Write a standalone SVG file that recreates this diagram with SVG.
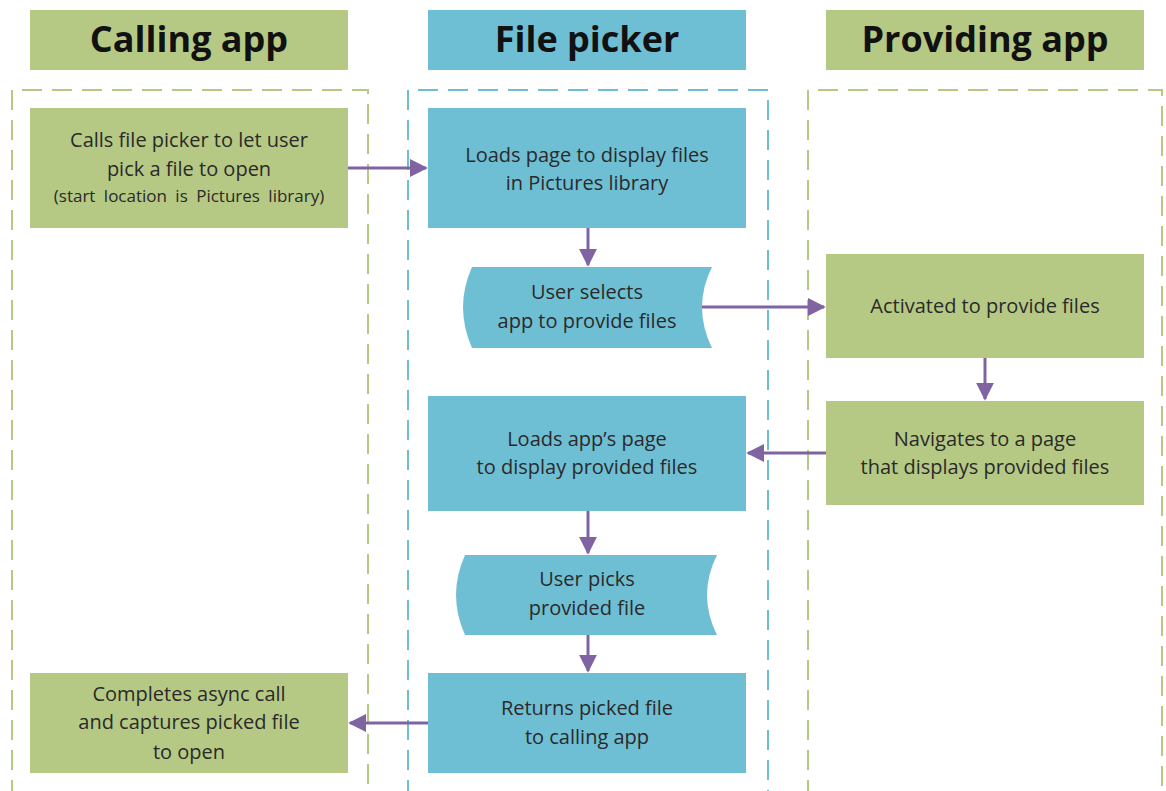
<svg xmlns="http://www.w3.org/2000/svg" width="1166" height="791" viewBox="0 0 1166 791">
<defs>
<marker id="ah" viewBox="0 0 10 10" refX="9" refY="5" markerWidth="6" markerHeight="6" markerUnits="strokeWidth" orient="auto">
<path d="M0,0 L10,5 L0,10 Z" fill="#8064A2"/>
</marker>
<style>
.g{fill:#B5C985}
.b{fill:#6FBFD4}
.hd{font-family:"Open Sans","Liberation Sans",sans-serif;font-weight:bold;font-size:36px;fill:#111;text-anchor:middle}
.t{font-family:"Open Sans","Liberation Sans",sans-serif;font-size:20px;fill:#2a2a2a;text-anchor:middle}
.s{font-size:17px;word-spacing:4px}
.laneG{fill:none;stroke:#B5C985;stroke-width:2;stroke-dasharray:20 10}
.laneB{fill:none;stroke:#6FBFD4;stroke-width:2;stroke-dasharray:20 10}
.c{fill:none;stroke:#8064A2;stroke-width:3;marker-end:url(#ah)}
</style>
</defs>
<rect width="1166" height="791" fill="#fff"/>
<g id="lanes">
<path class="laneG" d="M12,800 L12,90 L368,90 L368,800"/>
<path class="laneB" d="M408,800 L408,90 L768,90 L768,800"/>
<path class="laneG" d="M808,800 L808,90 L1162,90 L1162,800"/>
</g>
<g id="hdr-calling"><rect class="g" x="30" y="10" width="318" height="60"/><text class="hd" x="189" y="52">Calling app</text></g>
<g id="hdr-picker"><rect class="b" x="428" y="10" width="318" height="60"/><text class="hd" x="587" y="52">File picker</text></g>
<g id="hdr-providing"><rect class="g" x="826" y="10" width="318" height="60"/><text class="hd" x="985" y="52">Providing app</text></g>

<g id="calls"><rect class="g" x="30" y="108" width="318" height="120"/>
<text class="t" x="189" y="147">Calls file picker  to let user</text>
<text class="t" x="189" y="176">pick a file to open</text>
<text class="t s" x="189" y="202">(start location  is Pictures library)</text></g>

<g id="loads"><rect class="b" x="428" y="108" width="318" height="120"/>
<text class="t" x="587" y="162">Loads page to display files</text>
<text class="t" x="587" y="190">in Pictures library</text></g>

<g id="selects"><path class="b" d="M472,267 L712,267 Q692,307 712,348 L472,348 Q454,307 472,267 Z"/>
<text class="t" x="587" y="299">User selects</text>
<text class="t" x="587" y="328">app to provide files</text></g>

<g id="activated"><rect class="g" x="826" y="254" width="318" height="104"/>
<text class="t" x="985" y="313">Activated to provide files</text></g>

<g id="navigates"><rect class="g" x="826" y="401" width="318" height="104"/>
<text class="t" x="985" y="446">Navigates to a page</text>
<text class="t" x="985" y="474">that displays provided files</text></g>

<g id="loadsapp"><rect class="b" x="428" y="396" width="318" height="115"/>
<text class="t" x="587" y="446">Loads app’s page</text>
<text class="t" x="587" y="474">to display provided files</text></g>

<g id="picks"><path class="b" d="M465,555 L717,555 Q697,595 717,635 L465,635 Q447,595 465,555 Z"/>
<text class="t" x="587" y="586">User picks</text>
<text class="t" x="587" y="615">provided file</text></g>

<g id="returns"><rect class="b" x="428" y="673" width="318" height="100"/>
<text class="t" x="587" y="715">Returns picked file</text>
<text class="t" x="587" y="744">to calling app</text></g>

<g id="completes"><rect class="g" x="30" y="673" width="318" height="100"/>
<text class="t" x="189" y="701">Completes async call</text>
<text class="t" x="189" y="729">and captures picked file</text>
<text class="t" x="189" y="759">to open</text></g>

<g id="connectors">
<path class="c" d="M348,168 L426,168"/>
<path class="c" d="M588,228 L588,265"/>
<path class="c" d="M702,307 L824,307"/>
<path class="c" d="M985,358 L985,399"/>
<path class="c" d="M826,453 L748,453"/>
<path class="c" d="M588,511 L588,553"/>
<path class="c" d="M588,635 L588,671"/>
<path class="c" d="M428,723 L350,723"/>
</g>
</svg>
